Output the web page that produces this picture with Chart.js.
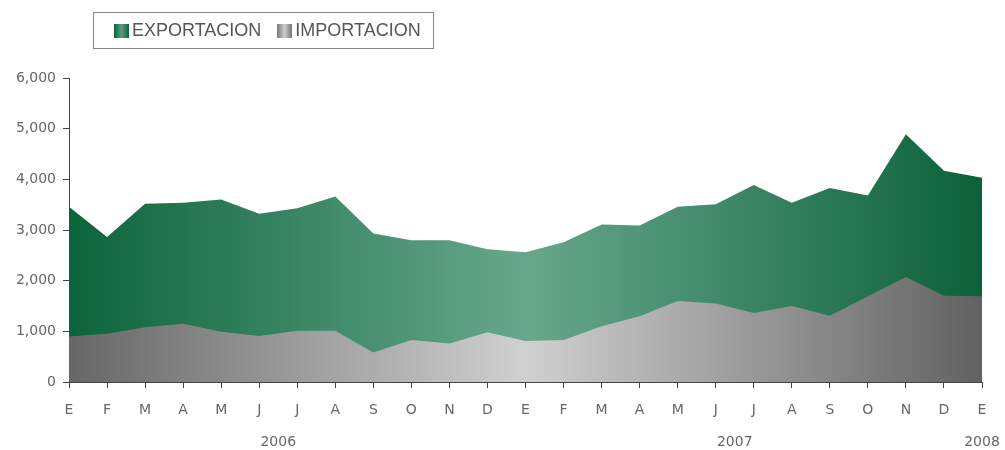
<!DOCTYPE html>
<html lang="es">
<head>
  <meta charset="UTF-8">
  <title>Exportacion / Importacion</title>
  <script src="https://cdn.jsdelivr.net/npm/chart.js"></script>
  <style>
    body {
      margin: 0;
      background: #fff;
      font-family: "DejaVu Sans", Verdana, sans-serif;
    }
    .wrap {
      position: relative;
      width: 1005px;
      height: 450px;
    }
    .legend {
      position: absolute;
      left: 93px;
      top: 12px;
      width: 341px;
      height: 37px;
      border: 1px solid #888;
      font-family: "Liberation Sans", Arial, sans-serif;
      font-size: 18px;
      color: #555;
      display: flex;
      align-items: center;
      padding-left: 20px;
      box-sizing: border-box;
    }
    .legend span.item { margin-right: 16px; display: flex; align-items: center; }
    .legend i {
      display: inline-block;
      width: 15px;
      height: 14px;
      margin-right: 3px;
    }
  </style>
</head>
<body>
  <div class="wrap">
    <canvas id="chart" width="1005" height="450"></canvas>
    <div class="legend" id="legend"></div>
  </div>
  <script>
    // Datos
    const months = ['E', 'F', 'M', 'A', 'M', 'J', 'J', 'A', 'S', 'O', 'N', 'D',
                    'E', 'F', 'M', 'A', 'M', 'J', 'J', 'A', 'S', 'O', 'N', 'D', 'E'];
    const monthYear = ['2006', '2006', '2006', '2006', '2006', '2006', '2006', '2006', '2006', '2006', '2006', '2006',
                       '2007', '2007', '2007', '2007', '2007', '2007', '2007', '2007', '2007', '2007', '2007', '2007', '2008'];
    const exportacion = [3460, 2860, 3520, 3540, 3600, 3320, 3430, 3660, 2930, 2800, 2800, 2620,
                         2560, 2760, 3110, 3090, 3460, 3510, 3890, 3540, 3830, 3680, 4890, 4170, 4030];
    const importacion = [900, 950, 1080, 1150, 990, 910, 1010, 1010, 580, 830, 760, 980,
                         810, 830, 1100, 1300, 1600, 1550, 1360, 1500, 1310, 1690, 2070, 1700, 1690];
    const yTicks = [0, 1000, 2000, 3000, 4000, 5000, 6000];

    const axisFont = { family: '"DejaVu Sans", Verdana, sans-serif', size: 14 };

    function hGradient(stops) {
      return ctx => {
        const ca = ctx.chart.chartArea;
        if (!ca) return stops[1];
        const g = ctx.chart.ctx.createLinearGradient(ca.left, 0, ca.right, 0);
        g.addColorStop(0, stops[0]);
        g.addColorStop(0.5, stops[1]);
        g.addColorStop(1, stops[2]);
        return g;
      };
    }
    const greenStops = ['#0c643b', '#68a78d', '#0b6139'];
    const greyStops = ['#676767', '#d0d0d0', '#616161'];

    // Años debajo de los meses
    const yearLabels = {
      id: 'yearLabels',
      afterDraw(chart) {
        const x = chart.scales.x;
        const c = chart.ctx;
        const years = [...new Set(monthYear)];
        c.save();
        c.font = '14px "DejaVu Sans", Verdana, sans-serif';
        c.fillStyle = '#666';
        c.textAlign = 'center';
        c.textBaseline = 'middle';
        years.forEach(y => {
          const idx = monthYear.map((m, i) => m === y ? i : -1).filter(i => i >= 0);
          const mid = (idx[0] + idx[idx.length - 1]) / 2;
          c.fillText(y, x.getPixelForValue(mid), x.bottom - 8);
        });
        c.restore();
      }
    };

    const chart = new Chart(document.getElementById('chart'), {
      type: 'line',
      data: {
        labels: months,
        datasets: [
          {
            label: 'IMPORTACION',
            data: importacion,
            fill: 'origin',
            backgroundColor: hGradient(greyStops),
            borderWidth: 0,
            pointRadius: 0,
            tension: 0,
            order: 0
          },
          {
            label: 'EXPORTACION',
            data: exportacion,
            fill: 'origin',
            backgroundColor: hGradient(greenStops),
            borderWidth: 0,
            pointRadius: 0,
            tension: 0,
            order: 1
          }
        ]
      },
      options: {
        responsive: false,
        animation: false,
        layout: { padding: { top: 78, right: 23, left: 0, bottom: 0 } },
        plugins: {
          legend: { display: false },
          tooltip: { enabled: false }
        },
        scales: {
          x: {
            offset: false,
            grid: { display: true, drawOnChartArea: false, tickLength: 6, color: '#444' },
            border: { display: true, color: '#444', width: 1 },
            ticks: {
              color: '#666',
              padding: 14,
              maxRotation: 0,
              autoSkip: false,
              font: axisFont
            },
            afterFit: s => { s.height = 68; }
          },
          y: {
            min: 0,
            max: 6000,
            afterBuildTicks: s => { s.ticks = yTicks.map(v => ({ value: v })); },
            grid: { display: true, drawOnChartArea: false, tickLength: 6, color: '#444' },
            border: { display: true, color: '#444', width: 1 },
            ticks: {
              color: '#666',
              padding: 7,
              font: axisFont,
              callback: v => v.toLocaleString('en-US')
            },
            afterFit: s => { s.width = 69; }
          }
        }
      },
      plugins: [yearLabels]
    });

    // Leyenda
    const legendIcons = {
      EXPORTACION: 'linear-gradient(90deg,#0c643b,#5e9c82,#0c643b)',
      IMPORTACION: 'linear-gradient(90deg,#777,#ccc,#777)'
    };
    const legend = document.getElementById('legend');
    ['EXPORTACION', 'IMPORTACION'].forEach(name => {
      const ds = chart.data.datasets.find(d => d.label === name);
      const item = document.createElement('span');
      item.className = 'item';
      item.innerHTML = `<i style="background:${legendIcons[name]}"></i>${ds.label}`;
      legend.appendChild(item);
    });
  </script>
</body>
</html>
